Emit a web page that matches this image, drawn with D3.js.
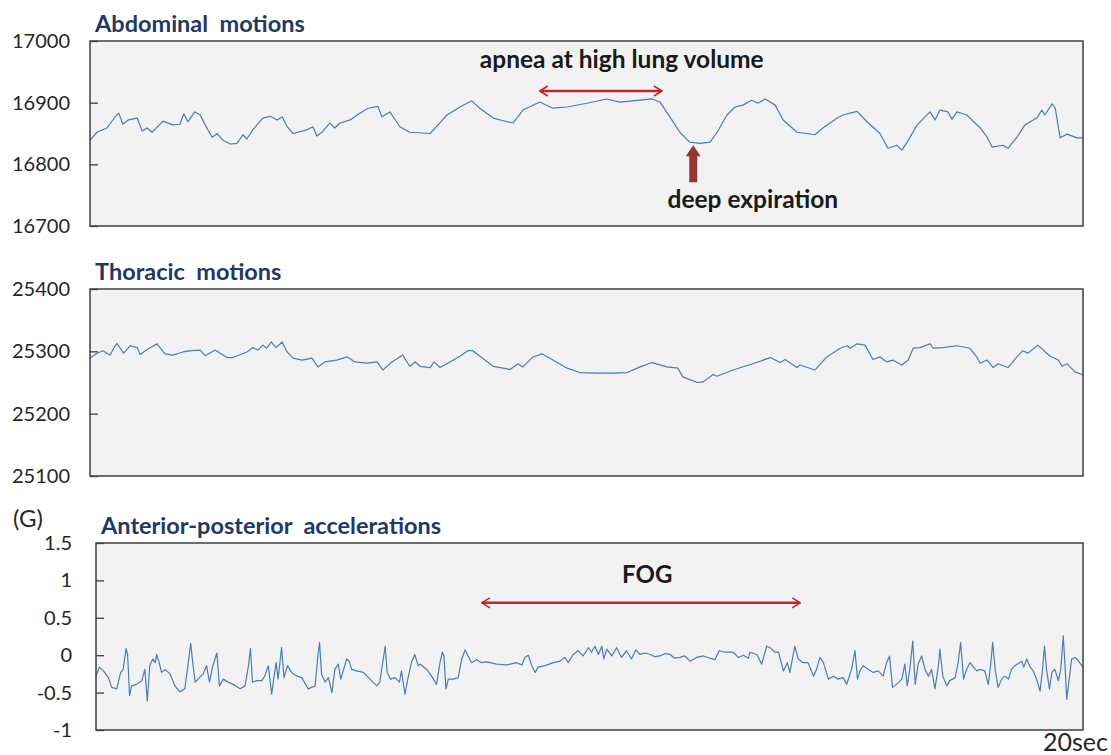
<!DOCTYPE html>
<html>
<head>
<meta charset="utf-8">
<title>Abdominal / thoracic motions and AP accelerations</title>
<script src="https://d3js.org/d3.v7.min.js"></script>
<style>
  body { margin: 0; background: #fff; }
  svg text { font-family: Lato, 'Open Sans', sans-serif; }
</style>
</head>
<body>
<svg id="chart" width="1111" height="755"></svg>
<script>
// values, [time in sec, value]
var abdominal = [[0,16839],[0.14,16852],[0.34,16859],[0.54,16880],[0.58,16883],[0.66,16865],[0.77,16872],[0.95,16875],[1.05,16854],[1.15,16859],[1.25,16852],[1.47,16870],[1.67,16864],[1.81,16865],[1.89,16882],[1.97,16869],[2.11,16885],[2.22,16880],[2.32,16864],[2.46,16844],[2.56,16850],[2.68,16839],[2.82,16833],[2.96,16834],[3.08,16848],[3.16,16841],[3.28,16856],[3.48,16875],[3.63,16878],[3.77,16872],[3.87,16877],[3.97,16861],[4.09,16850],[4.37,16856],[4.49,16861],[4.57,16846],[4.67,16852],[4.83,16867],[4.93,16859],[5.04,16867],[5.24,16872],[5.38,16880],[5.60,16891],[5.80,16894],[5.88,16877],[6.04,16885],[6.24,16861],[6.44,16852],[6.85,16850],[7.01,16864],[7.19,16880],[7.45,16893],[7.69,16903],[7.85,16891],[8.12,16875],[8.40,16869],[8.52,16867],[8.72,16888],[9.06,16901],[9.32,16891],[9.61,16893],[10.01,16899],[10.41,16906],[10.67,16901],[11.08,16904],[11.32,16906],[11.48,16901],[11.68,16877],[11.88,16852],[12.08,16836],[12.29,16834],[12.49,16836],[12.63,16852],[12.83,16880],[12.99,16893],[13.15,16896],[13.33,16904],[13.45,16899],[13.60,16906],[13.80,16896],[13.96,16872],[14.24,16852],[14.44,16850],[14.60,16848],[14.76,16859],[15.05,16875],[15.17,16880],[15.31,16883],[15.45,16886],[15.65,16869],[15.91,16850],[16.07,16826],[16.25,16831],[16.35,16823],[16.46,16836],[16.66,16864],[16.92,16885],[17.02,16872],[17.12,16888],[17.28,16885],[17.36,16873],[17.46,16885],[17.66,16880],[17.93,16859],[18.07,16844],[18.17,16828],[18.39,16831],[18.49,16826],[18.67,16844],[18.83,16864],[19.07,16875],[19.17,16888],[19.23,16880],[19.38,16898],[19.44,16891],[19.54,16843],[19.68,16849],[19.88,16843],[20,16843]];

var thoracic = [[0,25289],[0.14,25297],[0.26,25301],[0.40,25294],[0.54,25313],[0.60,25306],[0.68,25297],[0.81,25309],[0.95,25306],[1.01,25295],[1.15,25303],[1.35,25312],[1.51,25296],[1.67,25294],[1.87,25299],[2.05,25301],[2.22,25302],[2.32,25293],[2.52,25302],[2.76,25290],[2.88,25290],[3.16,25299],[3.28,25306],[3.38,25302],[3.48,25310],[3.56,25305],[3.65,25315],[3.75,25306],[3.87,25315],[3.97,25299],[4.09,25289],[4.27,25286],[4.47,25289],[4.59,25275],[4.73,25283],[4.97,25286],[5.18,25291],[5.34,25283],[5.58,25281],[5.78,25283],[5.90,25270],[6.08,25283],[6.30,25294],[6.44,25276],[6.55,25283],[6.65,25276],[6.85,25274],[6.93,25283],[7.05,25274],[7.25,25283],[7.45,25292],[7.61,25301],[7.71,25301],[8.12,25276],[8.46,25271],[8.62,25280],[8.72,25275],[8.92,25291],[9.10,25296],[9.26,25289],[9.61,25273],[9.87,25266],[10.21,25265],[10.53,25265],[10.82,25266],[11.08,25275],[11.32,25282],[11.62,25275],[11.84,25273],[11.94,25259],[12.23,25250],[12.35,25251],[12.55,25263],[12.63,25260],[12.95,25270],[13.35,25280],[13.70,25290],[13.90,25282],[14.00,25287],[14.24,25274],[14.30,25278],[14.60,25270],[14.84,25291],[15.11,25305],[15.25,25309],[15.31,25305],[15.45,25312],[15.61,25310],[15.77,25287],[15.91,25291],[16.05,25283],[16.17,25286],[16.35,25278],[16.48,25286],[16.58,25305],[16.72,25306],[16.92,25312],[16.98,25305],[17.18,25306],[17.46,25309],[17.72,25305],[17.86,25291],[17.93,25281],[18.07,25286],[18.19,25274],[18.29,25280],[18.49,25274],[18.67,25291],[18.79,25301],[18.89,25297],[19.09,25310],[19.27,25297],[19.34,25292],[19.50,25286],[19.58,25276],[19.68,25280],[19.84,25267],[20,25262]];

var accel = [[0,-0.28],[0.07,-0.16],[0.15,-0.21],[0.25,-0.30],[0.32,-0.43],[0.42,-0.45],[0.50,-0.23],[0.55,-0.19],[0.61,0.09],[0.64,0.01],[0.68,-0.54],[0.72,-0.41],[0.82,-0.39],[0.93,-0.34],[0.99,-0.19],[1.04,-0.61],[1.09,-0.14],[1.15,-0.05],[1.20,-0.10],[1.23,0.01],[1.28,-0.10],[1.33,-0.23],[1.40,-0.19],[1.50,-0.25],[1.60,-0.41],[1.70,-0.49],[1.80,-0.45],[1.87,-0.10],[1.92,0.16],[1.96,-0.10],[2.01,-0.36],[2.07,-0.32],[2.17,-0.25],[2.24,-0.14],[2.30,-0.36],[2.36,-0.16],[2.45,0.03],[2.50,-0.41],[2.58,-0.32],[2.68,-0.36],[2.78,-0.39],[2.92,-0.45],[3.02,-0.41],[3.09,-0.14],[3.13,0.09],[3.17,-0.36],[3.26,-0.34],[3.36,-0.34],[3.42,-0.28],[3.49,-0.14],[3.56,-0.52],[3.61,-0.28],[3.65,-0.10],[3.69,-0.32],[3.76,0.10],[3.81,-0.30],[3.88,-0.14],[3.96,-0.23],[4.07,-0.28],[4.17,-0.30],[4.30,-0.45],[4.44,-0.41],[4.49,-0.05],[4.53,0.17],[4.57,-0.25],[4.64,-0.36],[4.71,-0.30],[4.78,-0.50],[4.84,-0.19],[4.91,-0.12],[4.96,-0.32],[5.01,-0.21],[5.08,-0.05],[5.13,-0.08],[5.18,-0.19],[5.28,-0.21],[5.42,-0.23],[5.55,-0.32],[5.69,-0.41],[5.75,-0.36],[5.81,-0.10],[5.86,0.12],[5.90,-0.23],[5.97,-0.32],[6.06,-0.30],[6.15,-0.36],[6.19,-0.21],[6.26,-0.52],[6.33,-0.28],[6.40,-0.08],[6.46,0.01],[6.53,-0.14],
  [6.57,-0.12],[6.70,-0.19],[6.80,-0.28],[6.90,-0.39],[6.97,-0.10],[7.02,0.04],[7.05,-0.01],[7.09,-0.45],[7.14,-0.32],[7.24,-0.32],[7.34,-0.30],[7.41,-0.05],[7.48,0.07],[7.54,-0.01],[7.61,-0.10],[7.71,-0.06],[7.81,-0.10],[7.92,-0.09],[8.12,-0.12],[8.32,-0.13],[8.52,-0.10],[8.63,-0.13],[8.69,-0.03],[8.76,0.00],[8.83,-0.14],[8.90,-0.23],[8.96,-0.16],[9.10,-0.14],[9.27,-0.10],[9.40,-0.08],[9.50,-0.03],[9.57,-0.10],[9.67,0.01],[9.77,0.06],[9.87,-0.01],[9.98,0.10],[10.04,0.04],[10.11,0.12],[10.18,0.01],[10.25,0.12],[10.29,-0.05],[10.35,0.08],[10.45,-0.01],[10.55,0.10],[10.65,-0.03],[10.75,0.06],[10.85,-0.05],[10.94,0.07],[11.02,0.01],[11.13,0.03],[11.23,0.01],[11.33,-0.02],[11.43,-0.01],[11.53,0.02],[11.63,0.01],[11.73,-0.04],[11.83,-0.03],[11.93,-0.01],[12.04,-0.08],[12.17,-0.03],[12.31,-0.01],[12.44,-0.04],[12.54,-0.06],[12.63,0.06],[12.75,0.04],[12.91,0.04],[13.02,-0.03],[13.12,0.00],[13.22,-0.04],
  [13.25,0.04],[13.39,0.01],[13.49,-0.12],[13.59,0.12],[13.66,0.10],[13.76,0.04],[13.83,0.04],[13.93,-0.21],[14.01,-0.10],[14.06,-0.23],[14.16,0.12],[14.23,-0.05],[14.33,-0.10],[14.43,-0.10],[14.54,-0.28],[14.60,-0.19],[14.67,-0.03],[14.74,-0.10],[14.84,-0.32],[14.94,-0.28],[15.04,-0.32],[15.14,-0.30],[15.21,-0.39],[15.31,-0.19],[15.38,0.06],[15.43,-0.32],[15.48,-0.21],[15.55,-0.14],[15.65,-0.19],[15.75,-0.23],[15.85,-0.21],[15.95,-0.28],[16.02,-0.10],[16.08,-0.01],[16.14,-0.43],[16.22,-0.39],[16.33,-0.32],[16.39,-0.12],[16.44,-0.41],[16.49,-0.19],[16.55,0.19],[16.60,-0.39],[16.66,-0.12],[16.73,-0.01],[16.80,-0.19],[16.87,-0.28],[16.93,-0.19],[17.00,-0.45],[17.07,-0.14],[17.10,0.08],[17.16,-0.28],[17.24,-0.41],[17.30,-0.34],[17.41,-0.30],[17.47,-0.10],[17.52,0.17],[17.58,-0.32],[17.64,-0.19],[17.71,-0.10],[17.78,-0.16],[17.85,-0.21],[17.91,-0.19],[18.01,-0.21],[18.08,-0.39],[18.13,-0.12],[18.17,0.17],[18.22,-0.19],[18.28,-0.43],[18.35,-0.32],[18.42,-0.28],[18.49,-0.32],[18.55,-0.19],[18.62,-0.14],[18.71,-0.10],[18.76,-0.08],[18.80,-0.16],[18.86,-0.05],[18.93,-0.16],[18.99,-0.21],[19.06,-0.32],[19.13,-0.48],[19.18,-0.19],[19.22,0.12],[19.26,-0.19],[19.32,-0.45],[19.37,-0.23],[19.43,-0.19],[19.50,-0.34],[19.55,-0.19],[19.60,0.26],[19.64,-0.19],[19.67,-0.59],[19.72,-0.32],[19.77,-0.05],[19.84,-0.03],[19.91,-0.08],[20,-0.16]];

var abdTicks = [16700, 16800, 16900, 17000];
var thorTicks = [25100, 25200, 25300, 25400];
var accTicks = [-1, -0.5, 0, 0.5, 1, 1.5];

var titles = ['Abdominal  motions', 'Thoracic  motions', 'Anterior-posterior  accelerations'];

var svg = d3.select('#chart');

// arrow head for the red annotation arrows
var defs = svg.append('defs');
['start', 'end'].forEach(function (k) {
  defs.append('marker')
    .attr('id', 'head-' + k)
    .attr('viewBox', '0 0 10 12')
    .attr('refX', 9).attr('refY', 6)
    .attr('markerWidth', 4).attr('markerHeight', 5)
    .attr('markerUnits', 'strokeWidth')
    .attr('orient', k == 'start' ? 'auto-start-reverse' : 'auto')
    .append('path')
    .attr('d', 'M1,1 L9,6 L1,11')
    .attr('fill', 'none')
    .attr('stroke', '#c0262d')
    .attr('stroke-width', 1.6);
});

var panels = [
  { title: titles[0], data: abdominal, ticks: abdTicks, left: 90, top: 41, bottom: 226, pad: 20 },
  { title: titles[1], data: thoracic, ticks: thorTicks, left: 90, top: 289, bottom: 476, pad: 20 },
  { title: titles[2], data: accel, ticks: accTicks, left: 96, top: 543, bottom: 730, pad: 24 }
];
var right = 1083;

var scales = panels.map(function (p) {
  var x = d3.scaleLinear().domain([0, 20]).range([p.left, right]);
  var y = d3.scaleLinear().domain(d3.extent(p.ticks)).range([p.bottom, p.top]);

  svg.append('rect')
    .attr('x', p.left).attr('y', p.top)
    .attr('width', right - p.left).attr('height', p.bottom - p.top)
    .attr('fill', '#f2f2f2');

  svg.append('path')
    .datum(p.data)
    .attr('fill', 'none')
    .attr('stroke', '#4a7cb8')
    .attr('stroke-width', 1.2)
    .attr('stroke-linejoin', 'round')
    .attr('d', d3.line().x(function (d) { return x(d[0]); }).y(function (d) { return y(d[1]); }));

  svg.append('rect')
    .attr('x', p.left).attr('y', p.top)
    .attr('width', right - p.left).attr('height', p.bottom - p.top)
    .attr('fill', 'none')
    .attr('stroke', '#3f3f3f')
    .attr('stroke-width', 1.5);

  var ax = svg.append('g')
    .attr('transform', 'translate(' + p.left + ',0)')
    .call(d3.axisLeft(y).tickValues(p.ticks).tickSize(-8).tickPadding(p.pad).tickFormat(function (d) { return String(d); }));
  ax.select('.domain').remove();
  ax.selectAll('line').attr('stroke', '#3f3f3f').attr('stroke-width', 1.3);
  ax.selectAll('text').attr('font-size', 20).attr('fill', '#262626');

  svg.append('text')
    .attr('x', p.left + 5).attr('y', p.top - 9)
    .attr('font-size', 23.5).attr('font-weight', 'bold')
    .attr('fill', '#1f3864')
    .style('white-space', 'pre')
    .text(p.title);

  return { x: x, y: y };
});

svg.append('text').attr('x', 13).attr('y', 527)
  .attr('font-size', 24).attr('fill', '#262626').text('(G)');
svg.append('text').attr('x', 1108).attr('y', 751).attr('text-anchor', 'end')
  .attr('font-size', 25).attr('fill', '#262626').text('20sec');

// annotations, placed in data units
var s1 = scales[0], s3 = scales[2];

svg.append('text')
  .attr('x', s1.x(10.71)).attr('y', s1.y(16956))
  .attr('text-anchor', 'middle').attr('font-size', 24.5).attr('font-weight', 'bold')
  .attr('fill', '#1a1a1a').text('apnea at high lung volume');

svg.append('line')
  .attr('x1', s1.x(9.06)).attr('x2', s1.x(11.52))
  .attr('y1', s1.y(16919)).attr('y2', s1.y(16919))
  .attr('stroke', '#c0262d').attr('stroke-width', 2.5)
  .attr('marker-start', 'url(#head-start)').attr('marker-end', 'url(#head-end)');

// block arrow pointing at the deep expiration trough
var ax0 = s1.x(12.15), tipY = s1.y(16831), baseY = s1.y(16771);
svg.append('path')
  .attr('d', 'M' + (ax0 - 4) + ',' + baseY + 'V' + (tipY + 11) + 'H' + (ax0 - 7.5) +
    'L' + ax0 + ',' + tipY + 'L' + (ax0 + 7.5) + ',' + (tipY + 11) + 'H' + (ax0 + 4) + 'V' + baseY + 'Z')
  .attr('fill', '#943634');

svg.append('text')
  .attr('x', s1.x(13.35)).attr('y', s1.y(16729))
  .attr('text-anchor', 'middle').attr('font-size', 24.5).attr('font-weight', 'bold')
  .attr('fill', '#1a1a1a').text('deep expiration');

svg.append('text')
  .attr('x', s3.x(11.17)).attr('y', s3.y(0.965))
  .attr('text-anchor', 'middle').attr('font-size', 24).attr('font-weight', 'bold')
  .attr('fill', '#1a1a1a').text('FOG');

svg.append('line')
  .attr('x1', s3.x(7.82)).attr('x2', s3.x(14.27))
  .attr('y1', s3.y(0.70)).attr('y2', s3.y(0.70))
  .attr('stroke', '#c0262d').attr('stroke-width', 2.5)
  .attr('marker-start', 'url(#head-start)').attr('marker-end', 'url(#head-end)');
</script>
</body>
</html>
